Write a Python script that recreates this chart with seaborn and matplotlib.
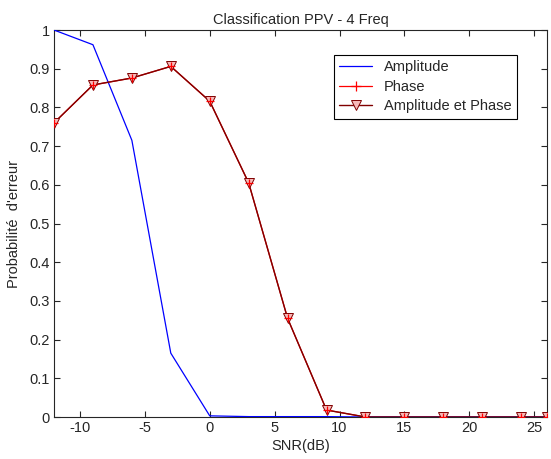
import numpy as np
import pandas as pd
import matplotlib
matplotlib.use("Agg")
import matplotlib.pyplot as plt
from matplotlib.lines import Line2D
import seaborn as sns

# data
snr = [-12, -9, -6, -3, 0, 3, 6, 9, 12, 15, 18, 21, 24, 26]
amplitude = [1.0, 0.962, 0.715, 0.165, 0.003, 0.001, 0.001, 0.001, 0.0, 0.0, 0.0, 0.0, 0.0, 0.0]
phase = [0.760, 0.858, 0.876, 0.906, 0.816, 0.605, 0.255, 0.018, 0.0, 0.0, 0.0, 0.0, 0.0, 0.0]
amp_phase = [0.760, 0.858, 0.876, 0.906, 0.816, 0.605, 0.255, 0.018, 0.0, 0.0, 0.0, 0.0, 0.0, 0.0]

df = pd.DataFrame({"SNR": snr, "Amplitude": amplitude, "Phase": phase, "AmpPhase": amp_phase})

FS = 10.5
sns.set_style("ticks")
plt.rcParams["font.family"] = ["Liberation Sans", "DejaVu Sans"]
plt.rcParams["font.size"] = FS
plt.rcParams["axes.unicode_minus"] = False

fig = plt.figure(figsize=(5.51, 4.59), dpi=100)
ax = fig.add_axes([0.098, 0.0915, 0.895, 0.8431])

sns.lineplot(data=df, x="SNR", y="Amplitude", ax=ax, color="#0000ff", lw=0.9, zorder=3, legend=False)
sns.lineplot(data=df, x="SNR", y="Phase", ax=ax, color="#ff0000", lw=0.9, zorder=2, legend=False)
sns.lineplot(data=df, x="SNR", y="AmpPhase", ax=ax, color="#800000", lw=1.0, marker="v",
             markersize=7, markerfacecolor="#f7b8b8", markeredgecolor="#800000",
             markeredgewidth=0.7, zorder=3, legend=False)
# phase crosses stay visible on top of the triangles
sns.scatterplot(data=df, x="SNR", y="Phase", ax=ax, marker="+", color="#ff0000", s=40,
                linewidth=0.9, zorder=4, legend=False)

ax.set_xlim(-12, 26)
ax.set_ylim(0, 1)
ax.set_xticks([-10, -5, 0, 5, 10, 15, 20, 25])
ax.set_yticks(np.arange(0, 1.01, 0.1))
ax.set_yticklabels(["0", "0.1", "0.2", "0.3", "0.4", "0.5", "0.6", "0.7", "0.8", "0.9", "1"])
ax.tick_params(direction="in", top=True, right=True, length=4, width=0.8, labelsize=FS, pad=3)
for s in ax.spines.values():
    s.set_linewidth(0.8)
    s.set_visible(True)

ax.set_title("Classification PPV - 4 Freq", fontsize=FS, pad=4)
ax.set_xlabel("SNR(dB)", fontsize=FS, labelpad=3)
ax.set_ylabel("Probabilité  d'erreur", fontsize=FS, labelpad=6)

handles = [
    Line2D([], [], color="#0000ff", lw=0.9),
    Line2D([], [], color="#ff0000", lw=0.9, marker="+", markersize=7, markeredgewidth=0.9),
    Line2D([], [], color="#800000", lw=1.0, marker="v", markersize=7, markerfacecolor="#f7b8b8",
           markeredgecolor="#800000", markeredgewidth=0.7),
]
labels = ["Amplitude", "Phase", "Amplitude et Phase"]
leg = ax.legend(handles, labels, loc="upper right", bbox_to_anchor=(0.953, 0.955), fancybox=False,
                edgecolor="black", framealpha=1, fontsize=FS, handlelength=2.3,
                borderpad=0.35, labelspacing=0.4, handletextpad=0.8)
leg.get_frame().set_linewidth(0.8)

fig.savefig("out.png", dpi=100)
